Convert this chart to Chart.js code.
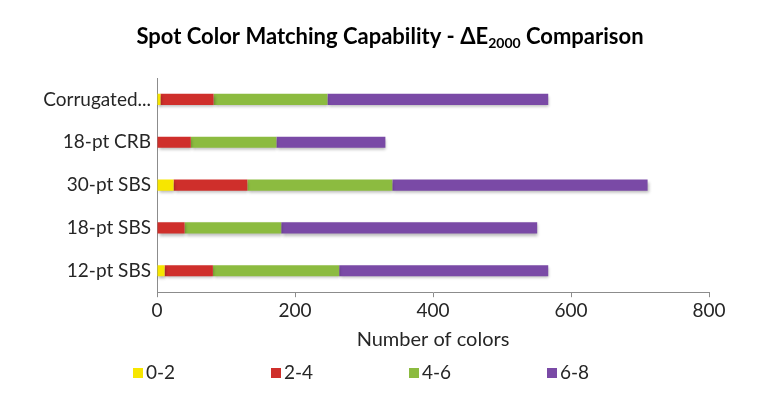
<!DOCTYPE html>
<html>
<head>
<meta charset="utf-8">
<script src="https://cdn.jsdelivr.net/npm/chart.js@4"></script>
<style>
  html, body { margin: 0; padding: 0; background: #ffffff; }
  #wrap { width: 772px; height: 396px; position: relative; }
</style>
</head>
<body>
<div id="wrap"><canvas id="chart" width="772" height="396"></canvas></div>
<script>
// Substrates compared (top to bottom)
const categories = ['Corrugated...', '18-pt CRB', '30-pt SBS', '18-pt SBS', '12-pt SBS'];

// Number of spot colors falling in each ΔE2000 range
const range02 = [5, 0, 24, 0, 11];
const range24 = [77, 49, 107, 40, 70];
const range46 = [165, 124, 210, 140, 183];
const range68 = [320, 158, 370, 371, 303];

const rangeLabels = ['0-2', '2-4', '4-6', '6-8'];
const rangeColors = ['#f7e600', '#cf2f2b', '#8cbb40', '#7a4aa6'];

const xTicks = [0, 200, 400, 600, 800];

const FONT = 'Lato, "Open Sans", sans-serif';
const TEXT = '#262626';

// Title with subscripted "2000"
const titlePlugin = {
  id: 'subTitle',
  afterDraw(chart) {
    const ctx = chart.ctx;
    const parts = [
      { t: 'Spot Color Matching Capability - ΔE', f: 'bold 22px ' + FONT, dy: 0 },
      { t: '2000', f: 'bold 14px ' + FONT, dy: 6 },
      { t: ' Comparison', f: 'bold 22px ' + FONT, dy: 0 }
    ];
    ctx.save();
    let total = 0;
    parts.forEach(p => { ctx.font = p.f; p.w = ctx.measureText(p.t).width; total += p.w; });
    let x = chart.width / 2 + 4 - total / 2;
    const y = 37;
    ctx.fillStyle = '#000';
    ctx.textBaseline = 'middle';
    parts.forEach(p => { ctx.font = p.f; ctx.fillText(p.t, x, y + p.dy); x += p.w; });
    ctx.restore();
  }
};

// Legend row under the axis title
const legendPlugin = {
  id: 'rowLegend',
  afterDraw(chart) {
    const ctx = chart.ctx;
    ctx.save();
    ctx.font = '19px ' + FONT;
    ctx.textBaseline = 'middle';
    const y = 373;
    chart.data.datasets.forEach((ds, i) => {
      const x = 133 + i * 138;
      ctx.fillStyle = ds.backgroundColor;
      ctx.fillRect(x, y - 5, 10, 10);
      ctx.fillStyle = TEXT;
      ctx.fillText(ds.label, x + 13, y);
    });
    ctx.restore();
  }
};

// Soft drop shadow under the bars
const shadowPlugin = {
  id: 'barShadow',
  beforeDatasetsDraw(chart) {
    const ctx = chart.ctx;
    ctx.save();
    ctx.shadowColor = 'rgba(0,0,0,0.28)';
    ctx.shadowBlur = 3;
    ctx.shadowOffsetX = 1;
    ctx.shadowOffsetY = 2;
  },
  afterDatasetsDraw(chart) {
    chart.ctx.restore();
  }
};

const seriesValues = [range02, range24, range46, range68];

new Chart(document.getElementById('chart'), {
  type: 'bar',
  data: {
    labels: categories,
    datasets: seriesValues.map((vals, i) => ({
      label: rangeLabels[i],
      data: vals,
      backgroundColor: rangeColors[i],
      borderWidth: 0,
      barPercentage: 0.26,
      categoryPercentage: 1.0
    }))
  },
  options: {
    indexAxis: 'y',
    responsive: false,
    animation: false,
    layout: { padding: { top: 78, left: 8, right: 63, bottom: 44 } },
    plugins: {
      legend: { display: false },
      title: { display: false },
      tooltip: { enabled: false }
    },
    scales: {
      x: {
        stacked: true,
        min: 0,
        max: 800,
        afterBuildTicks(scale) { scale.ticks = xTicks.map(v => ({ value: v })); },
        grid: {
          drawOnChartArea: false,
          drawTicks: true,
          tickLength: 5,
          color: '#8c8c8c'
        },
        border: { display: true, color: '#8c8c8c', width: 1 },
        ticks: { color: TEXT, font: { family: FONT, size: 19 }, padding: 2, maxRotation: 0 },
        title: {
          display: true,
          text: 'Number of colors',
          color: TEXT,
          font: { family: FONT, size: 20 },
          padding: { top: 4, bottom: 0 }
        }
      },
      y: {
        stacked: true,
        afterFit(scale) { scale.width = 149; },
        grid: { display: false, drawTicks: false },
        border: { display: true, color: '#8c8c8c', width: 1 },
        ticks: { color: TEXT, font: { family: FONT, size: 19 }, padding: 6 }
      }
    }
  },
  plugins: [shadowPlugin, titlePlugin, legendPlugin]
});
</script>
</body>
</html>
